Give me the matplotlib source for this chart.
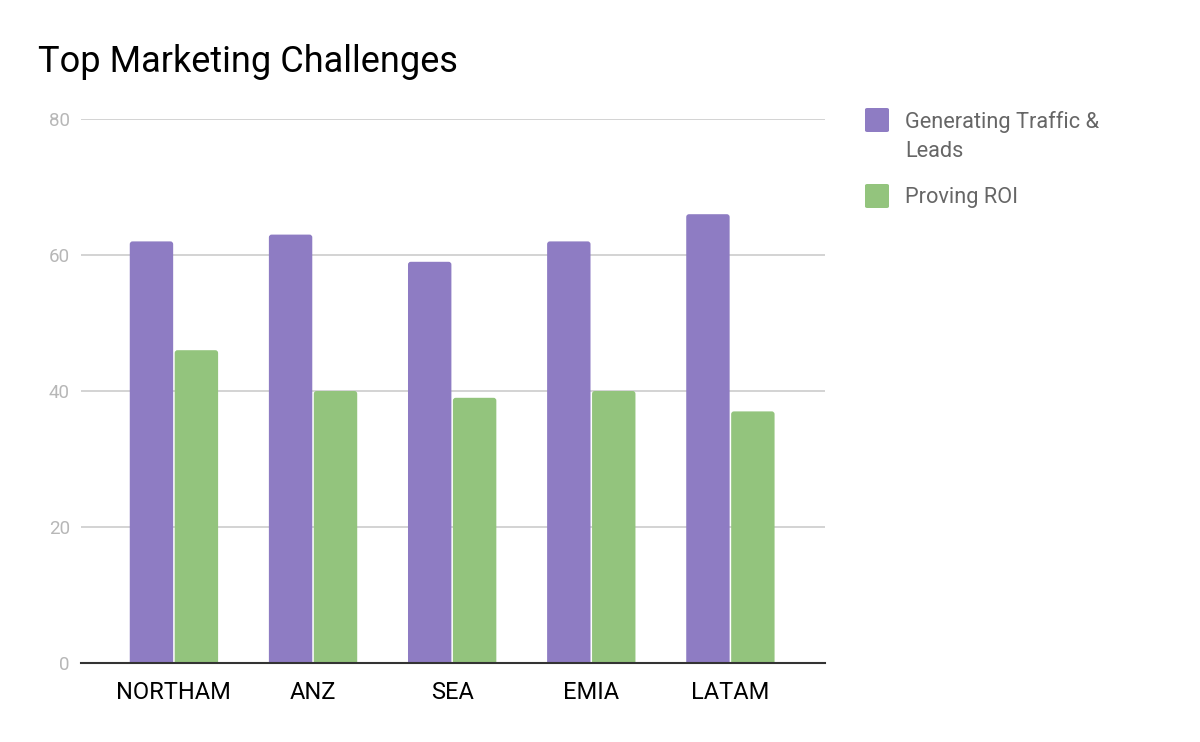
import matplotlib.pyplot as plt
from matplotlib.patches import FancyBboxPatch
import numpy as np

plt.rcParams['font.family'] = ['Roboto', 'DejaVu Sans']

categories = ["NORTHAM", "ANZ", "SEA", "EMIA", "LATAM"]
traffic_leads = [62, 63, 59, 62, 66]
proving_roi = [46, 40, 39, 40, 37]
series_names = ["Generating Traffic &\nLeads", "Proving ROI"]
colors = ["#8e7cc3", "#93c47d"]
yticks = [0, 20, 40, 60, 80]

W, H = 1200, 742
fig = plt.figure(figsize=(W / 100, H / 100), dpi=100)
ax = fig.add_axes([81 / W, (H - 663) / H, (825 - 81) / W, (663 - 119) / H])

x = np.arange(len(categories))
bw = 0.312
gap = 0.011
for vals, off, c in [(traffic_leads, -(bw + gap) / 2, colors[0]),
                     (proving_roi, (bw + gap) / 2, colors[1])]:
    bars = ax.bar(x + off, vals, width=bw, color=c, zorder=3)
    for b in bars:
        b.set_visible(False)
        p = FancyBboxPatch((b.get_x(), -2), b.get_width(), b.get_height() + 2,
                           boxstyle="round,pad=0,rounding_size=0.02",
                           mutation_aspect=20.5,
                           facecolor=c, edgecolor='none', zorder=3,
                           clip_on=True)
        ax.add_patch(p)

ax.set_xlim(-0.668, 4.68)
ax.set_ylim(0, 80)
ax.set_yticks(yticks)
ax.set_yticklabels([str(v) for v in yticks], color="#b7b7b7", fontsize=13.5)
ax.set_xticks(x)
ax.set_xticklabels(categories, fontsize=17, color="#000000")
ax.tick_params(axis='both', length=0)
ax.tick_params(axis='y', pad=8)
ax.tick_params(axis='x', pad=13)
ax.yaxis.grid(True, color="#cccccc", linewidth=1.2, zorder=0)
for s in ["top", "right", "left"]:
    ax.spines[s].set_visible(False)
ax.spines["bottom"].set_color("#333333")
ax.spines["bottom"].set_linewidth(1.5)
ax.spines["bottom"].set_zorder(4)

fig.text(38 / W, 1 - 62 / H, "Top Marketing Challenges", fontsize=26,
         color="#000000", va="center", ha="left")

# legend
leg_y = [120, 196]
for name, c, yc in zip(series_names, colors, leg_y):
    sq = FancyBboxPatch((865 / W, 1 - (yc + 12) / H), 24 / W, 24 / H,
                        boxstyle="round,pad=0,rounding_size=0.002",
                        transform=fig.transFigure, facecolor=c, edgecolor='none')
    fig.patches.append(sq)
    fig.text(905 / W, 1 - (yc - 9) / H, name, fontsize=15.7, color="#666666",
             va="top", ha="left", linespacing=1.5)

fig.savefig("out.png", dpi=100)
